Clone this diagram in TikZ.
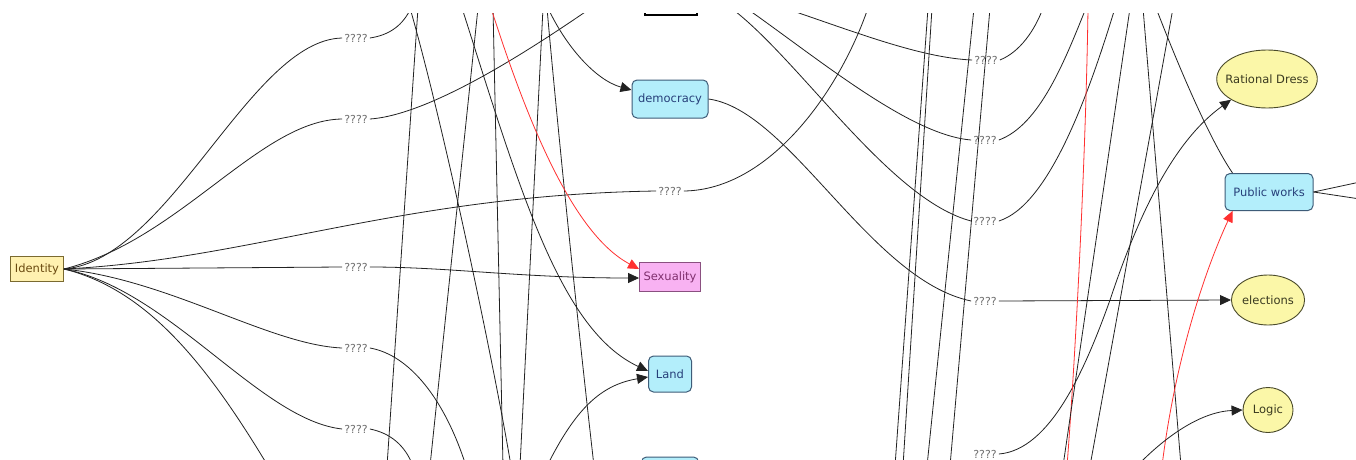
\documentclass[tikz,border=0pt]{standalone}
\usepackage{fontspec}
\setmainfont{DejaVu Sans}
\usetikzlibrary{arrows.meta,shapes.geometric}
\definecolor{linecol}{HTML}{222222}
\definecolor{redcol}{HTML}{FF3030}
\definecolor{lblcol}{HTML}{707070}
\definecolor{bluefill}{HTML}{B3EEFB}
\definecolor{blueborder}{HTML}{3E5C78}
\definecolor{bluetext}{HTML}{27407A}
\definecolor{idfill}{HTML}{FFF1B0}
\definecolor{idborder}{HTML}{7A6A30}
\definecolor{idtext}{HTML}{6A4A10}
\definecolor{pinkfill}{HTML}{F8B2F2}
\definecolor{pinkborder}{HTML}{8A5080}
\definecolor{pinktext}{HTML}{80306E}
\definecolor{ellfill}{HTML}{FBF7A8}
\definecolor{ellborder}{HTML}{4A4A2A}
\definecolor{elltext}{HTML}{3A3A20}
\begin{document}
\begin{tikzpicture}[x=1pt,y=-1pt,
  conn/.style={draw=linecol, line width=0.8pt},
  arr/.style={conn, -{Triangle[length=11pt,width=10pt]}},
  redconn/.style={draw=redcol, line width=0.8pt},
  redarr/.style={redconn, -{Triangle[length=11pt,width=10pt]}},
  lbl/.style={text=lblcol, inner sep=2pt, font=\fontsize{11}{12}\selectfont},
  nodefont/.style={font=\fontsize{11.5}{13}\selectfont},
  bluebox/.style={nodefont, draw=blueborder, fill=bluefill, text=bluetext, rounded corners=5pt, line width=1pt, inner sep=0pt},
  idbox/.style={nodefont, draw=idborder, fill=idfill, text=idtext, line width=0.9pt, inner sep=0pt},
  pinkbox/.style={nodefont, draw=pinkborder, fill=pinkfill, text=pinktext, line width=0.9pt, inner sep=0pt},
  ellnode/.style={nodefont, ellipse, draw=ellborder, fill=ellfill, text=elltext, line width=0.9pt, inner sep=0pt},
  topbar/.style={draw=black, fill=white, line width=2pt, inner sep=0pt}
]
\useasboundingbox[fill=white] (0,0) rectangle (1356,460);
\begin{scope}
\clip (0,14) rectangle (1356,460);

% ---------- free ends ----------
\coordinate (b7) at (268,466);
\coordinate (t1) at (411,8);
\coordinate (t2) at (591,8);
\coordinate (t3) at (868,8);
\coordinate (b5) at (466,466);
\coordinate (b6) at (413,466);
\coordinate (v1t) at (418,8);  \coordinate (v1b) at (387,466);
\coordinate (v2t) at (410,8);  \coordinate (v2b) at (511,466);
\coordinate (v3t) at (478,8);  \coordinate (v3b) at (430,466);
\coordinate (v4t) at (493,8);  \coordinate (v4b) at (503,466);
\coordinate (v5t) at (543,8);  \coordinate (v5b) at (520,466);
\coordinate (v6t) at (547,8);  \coordinate (v6b) at (594,466);
\coordinate (lu) at (462,8);
\coordinate (ll) at (547,466);
\coordinate (rs) at (491,8);
\coordinate (da) at (548,8);
\coordinate (c1t) at (731,8);
\coordinate (c2t) at (746,8);
\coordinate (c3t) at (784,8);
\coordinate (c4t) at (1043,8);
\coordinate (c5t) at (1086,8);
\coordinate (c6t) at (1115,8);
\coordinate (rp) at (1162,466);
\coordinate (pt) at (1156,8);
\coordinate (pr1) at (1360,182);
\coordinate (pr2) at (1360,199);
\coordinate (lg) at (1137,466);
\coordinate (w1t) at (928,8);  \coordinate (w1b) at (895,466);
\coordinate (w2t) at (932,8);  \coordinate (w2b) at (903,466);
\coordinate (w3t) at (974,8);  \coordinate (w3b) at (927,466);
\coordinate (w4t) at (990,8);  \coordinate (w4b) at (950,466);
\coordinate (rvt) at (1088,8); \coordinate (rvb) at (1067,466);
\coordinate (x1t) at (1130,8); \coordinate (x1b) at (1063,466);
\coordinate (x2t) at (1173,8); \coordinate (x2b) at (1090,466);
\coordinate (x3t) at (1143,8); \coordinate (x3b) at (1181,466);

% ---------- nodes ----------
\node[idbox, minimum width=53, minimum height=25] (identity) at (37,269) {Identity};
\node[bluebox, minimum width=76, minimum height=38] (democracy) at (670,99) {democracy};
\node[pinkbox, minimum width=61, minimum height=29] (sexuality) at (670,277) {Sexuality};
\node[bluebox, minimum width=43, minimum height=36] (land) at (670,374) {Land};
\node[bluebox, minimum width=57, minimum height=36] (lowbox) at (670,475) {};
\node[topbar, minimum width=52, minimum height=30] (topbox) at (671,0) {};
\node[ellnode, inner xsep=-6pt, minimum width=100, minimum height=58] (rational) at (1267,79) {Rational Dress};
\node[bluebox, minimum width=88, minimum height=37] (public) at (1269,192) {Public works};
\node[ellnode, minimum width=70, minimum height=50] (elections) at (1268,300) {elections};
\node[ellnode, minimum width=50, minimum height=45] (logic) at (1268,410) {Logic};

\node[lbl] (q1) at (356,38) {????};
\node[lbl] (q2) at (356,119) {????};
\node[lbl] (q3) at (670,191) {????};
\node[lbl] (q4) at (356,267) {????};
\node[lbl] (q5) at (356,348) {????};
\node[lbl] (q6) at (356,429) {????};
\node[lbl] (q7) at (986,60) {????};
\node[lbl] (q8) at (985,140) {????};
\node[lbl] (q9) at (985,221) {????};
\node[lbl] (q10) at (985,301) {????};
\node[lbl] (q11) at (985,454) {????};

% ---------- connectors ----------
\draw[conn] (identity.east) .. controls (170,260) and (250,40) .. (q1.west);
\draw[conn] (identity.east) .. controls (180,240) and (260,120) .. (q2.west);
\draw[conn] (identity.east) .. controls (250,260) and (400,195) .. (q3.west);
\draw[conn] (identity.east) -- (q4.west);
\draw[conn] (identity.east) .. controls (170,280) and (270,345) .. (q5.west);
\draw[conn] (identity.east) .. controls (170,290) and (260,420) .. (q6.west);
\draw[conn] (identity.east) .. controls (150,290) and (210,370) .. (b7);

\draw[conn] (q1.east) .. controls (390,35) and (403,25) .. (t1);
\draw[conn] (q2.east) .. controls (430,115) and (530,50) .. (t2);
\draw[conn] (q3.east) .. controls (770,190) and (840,90) .. (t3);
\draw[arr] (q4.east) .. controls (450,267) and (520,278) .. ([yshift=-1pt]sexuality.west);
\draw[conn] (q5.east) .. controls (410,355) and (445,400) .. (b5);
\draw[conn] (q6.east) .. controls (390,433) and (405,445) .. (b6);

\draw[conn] (v1t) -- (v1b);
\draw[conn] (v2t) .. controls (445,130) and (495,370) .. (v2b);
\draw[conn] (v3t) -- (v3b);
\draw[conn] (v4t) -- (v4b);
\draw[conn] (v5t) -- (v5b);
\draw[conn] (v6t) .. controls (555,100) and (575,300) .. (v6b);
\draw[arr] (lu) .. controls (520,190) and (560,330) .. ([yshift=3pt]land.west);
\draw[arr] (ll) .. controls (575,410) and (600,385) .. ([yshift=-3pt]land.west);
\draw[redarr] (rs) .. controls (530,130) and (575,235) .. ([yshift=8pt]sexuality.west);
\draw[arr] (da) .. controls (565,45) and (595,80) .. ([yshift=9pt]democracy.west);

\draw[conn] (democracy.east) .. controls (790,110) and (870,280) .. (q10.west);
\draw[arr] (q10.east) -- (elections.west);

\draw[conn] (c1t) .. controls (800,60) and (890,200) .. (q9.west);
\draw[conn] (c2t) .. controls (820,60) and (910,135) .. (q8.west);
\draw[conn] (c3t) .. controls (850,30) and (920,58) .. (q7.west);
\draw[conn] (q7.east) .. controls (1020,52) and (1035,30) .. (c4t);
\draw[conn] (q8.east) .. controls (1040,125) and (1065,60) .. (c5t);
\draw[conn] (q9.east) .. controls (1050,205) and (1090,90) .. (c6t);
\draw[arr] (q11.east) .. controls (1050,450) and (1085,370) .. (1110,300)
   .. controls (1140,210) and (1175,140) .. (rational.210);

\draw[conn] (w1t) -- (w1b);
\draw[conn] (w2t) -- (w2b);
\draw[conn] (w3t) -- (w3b);
\draw[conn] (w4t) -- (w4b);
\draw[redconn] (rvt) .. controls (1086,150) and (1076,350) .. (rvb);
\draw[conn] (x1t) -- (x1b);
\draw[conn] (x2t) -- (x2b);
\draw[conn] (x3t) -- (x3b);

\draw[redarr] (rp) .. controls (1175,360) and (1205,270) .. ([xshift=8pt]public.south west);
\draw[conn] (pt) .. controls (1180,70) and (1210,140) .. ([xshift=8pt]public.north west);
\draw[conn] (public.east) -- (pr1);
\draw[conn] (public.east) -- (pr2);
\draw[arr] (lg) .. controls (1165,437) and (1200,412) .. (logic.west);
\end{scope}
\end{tikzpicture}
\end{document}
